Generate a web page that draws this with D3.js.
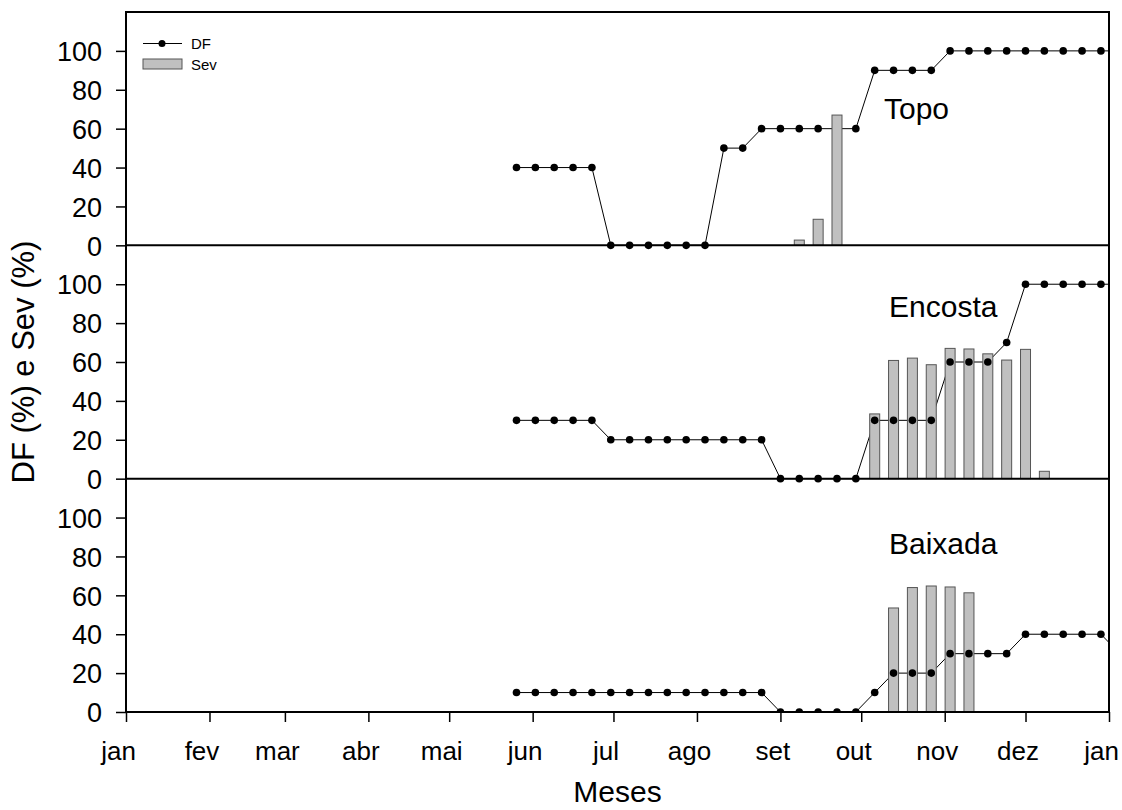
<!DOCTYPE html>
<html>
<head>
<meta charset="utf-8">
<script src="https://cdn.jsdelivr.net/npm/d3@7"></script>
<style>
  html, body { margin: 0; padding: 0; background: #fff; }
  svg { display: block; }
  text { font-family: "Liberation Sans", Arial, sans-serif; fill: #000; }
</style>
</head>
<body>
<svg id="chart" width="1122" height="810"></svg>
<script>
// Weekly sampling dates (the last one falls just past the axis end)
const sampleDates = [
  "2007-05-26","2007-06-02","2007-06-09","2007-06-16","2007-06-23","2007-06-30",
  "2007-07-07","2007-07-14","2007-07-21","2007-07-28","2007-08-04","2007-08-11",
  "2007-08-18","2007-08-25","2007-09-01","2007-09-08","2007-09-15","2007-09-22",
  "2007-09-29","2007-10-06","2007-10-13","2007-10-20","2007-10-27","2007-11-03",
  "2007-11-10","2007-11-17","2007-11-24","2007-12-01","2007-12-08","2007-12-15",
  "2007-12-22","2007-12-29","2008-01-05"
];

// DF (%) per sampling date
const dfTopo = [40,40,40,40,40, 0,0,0,0,0,0, 50,50, 60,60,60,60, null, 60,
                90,90,90,90, 100,100,100,100,100,100,100,100,100, 100];
const dfEncosta = [30,30,30,30,30, 20,20,20,20,20,20,20,20,20, 0,0,0,0,0,
                   30,30,30,30, 60,60,60, 70, 100,100,100,100,100, 100];
const dfBaixada = [10,10,10,10,10,10,10,10,10,10,10,10,10,10, 0,0,0,0,0,
                   10, 20,20,20, 30,30,30,30, 40,40,40,40,40, 30];

// Sev (%) per sampling date (null = not assessed)
const sevTopo = [null,null,null,null,null,null,null,null,null,null,null,null,null,null,null,
                 2.7, 13.4, 67, null,null,null,null,null,null,null,null,null,null,null,null,null,null,null];
const sevEncosta = [null,null,null,null,null,null,null,null,null,null,null,null,null,null,null,
                    null,null,null,null, 33.3, 60.8, 62, 58.6, 67, 66.7, 64.2, 61, 66.5, 3.8,
                    null,null,null,null];
const sevBaixada = [null,null,null,null,null,null,null,null,null,null,null,null,null,null,null,
                    null,null,null,null,null, 53.5, 64, 64.8, 64.3, 61.3,
                    null,null,null,null,null,null,null,null];

const panelNames = ["Topo", "Encosta", "Baixada"];
const monthLabels = ["jan","fev","mar","abr","mai","jun","jul","ago","set","out","nov","dez","jan"];
const yTickValues = [0, 20, 40, 60, 80, 100];

const panels = [
  { name: panelNames[0], df: dfTopo,    sev: sevTopo },
  { name: panelNames[1], df: dfEncosta, sev: sevEncosta },
  { name: panelNames[2], df: dfBaixada, sev: sevBaixada }
];

const svg = d3.select("#chart");
const plotL = 126, plotR = 1109, plotT = 12, plotB = 712;
const panelH = (plotB - plotT) / panels.length;
const parse = d3.timeParse("%Y-%m-%d");
const dates = sampleDates.map(parse);

const x = d3.scaleTime()
  .domain([new Date(2007, 0, 1), new Date(2008, 0, 1)])
  .range([plotL, plotR]);

svg.append("defs").append("clipPath").attr("id", "plotClip")
  .append("rect").attr("x", plotL).attr("y", plotT)
  .attr("width", plotR - plotL).attr("height", plotB - plotT);

const barW = 10;

panels.forEach((p, i) => {
  const y = d3.scaleLinear()
    .domain([0, 120])
    .range([plotT + (i + 1) * panelH, plotT + i * panelH]);

  const g = svg.append("g").attr("clip-path", "url(#plotClip)");

  // DF connecting line (beneath the bars)
  const pts = dates.map((d, k) => ({ d, v: p.df[k] })).filter(o => o.v != null);
  const line = d3.line().x(o => x(o.d)).y(o => y(o.v));
  g.append("path").datum(pts)
    .attr("d", line)
    .attr("fill", "none")
    .attr("stroke", "#000")
    .attr("stroke-width", 1);

  // Sev bars
  const bars = dates.map((d, k) => ({ d, v: p.sev[k] })).filter(o => o.v != null);
  g.selectAll("rect.bar").data(bars).join("rect")
    .attr("class", "bar")
    .attr("x", o => x(o.d) - barW / 2)
    .attr("width", barW)
    .attr("y", o => y(o.v))
    .attr("height", o => y(0) - y(o.v))
    .attr("fill", "#c0c0c0")
    .attr("stroke", "#555")
    .attr("stroke-width", 1);

  // DF symbols
  g.selectAll("circle.pt").data(pts).join("circle")
    .attr("class", "pt")
    .attr("cx", o => x(o.d))
    .attr("cy", o => y(o.v))
    .attr("r", 3.8)
    .attr("fill", "#000");

  // Y axis for this panel
  const ax = svg.append("g")
    .attr("transform", `translate(${plotL},0)`)
    .call(d3.axisLeft(y).tickValues(yTickValues).tickSize(10).tickPadding(14));
  ax.select(".domain").remove();
  ax.selectAll(".tick line").attr("stroke", "#000").attr("stroke-width", 1.5);
  ax.selectAll(".tick text")
    .style("font-family", '"Liberation Sans", Arial, sans-serif')
    .style("font-size", "27px")
    .attr("dy", "0.36em");

  // Panel baseline
  svg.append("line")
    .attr("x1", plotL).attr("x2", plotR)
    .attr("y1", y(0)).attr("y2", y(0))
    .attr("stroke", "#000").attr("stroke-width", 2);

  // Panel name
  svg.append("text")
    .attr("x", i === 0 ? 884 : 889)
    .attr("y", [119, 317, 554][i])
    .style("font-size", "30px")
    .text(p.name);
});

// Frame
svg.append("rect")
  .attr("x", plotL).attr("y", plotT)
  .attr("width", plotR - plotL).attr("height", plotB - plotT)
  .attr("fill", "none").attr("stroke", "#000").attr("stroke-width", 2);

// X axis
const monthTicks = d3.timeMonth.range(new Date(2007, 0, 1), new Date(2008, 0, 2));
const xa = svg.append("g")
  .attr("transform", `translate(0,${plotB})`)
  .call(d3.axisBottom(x).tickValues(monthTicks).tickSize(10).tickPadding(20)
    .tickFormat((d, k) => monthLabels[k]));
xa.select(".domain").remove();
xa.selectAll(".tick line").attr("stroke", "#000").attr("stroke-width", 1.5);
xa.selectAll(".tick text")
  .style("font-family", '"Liberation Sans", Arial, sans-serif')
  .style("font-size", "26px")
  .attr("dx", -8);

// Axis titles
svg.append("text")
  .attr("x", (plotL + plotR) / 2).attr("y", 802)
  .attr("text-anchor", "middle")
  .style("font-size", "30px")
  .text("Meses");

svg.append("text")
  .attr("transform", `translate(34,${(plotT + plotB) / 2}) rotate(-90)`)
  .attr("text-anchor", "middle")
  .style("font-size", "31px")
  .text("DF (%) e Sev (%)");

// Legend
const lg = svg.append("g");
lg.append("line").attr("x1", 143).attr("x2", 182).attr("y1", 43.5).attr("y2", 43.5)
  .attr("stroke", "#000").attr("stroke-width", 1);
lg.append("circle").attr("cx", 162).attr("cy", 43.5).attr("r", 3.5).attr("fill", "#000");
lg.append("text").attr("x", 191).attr("y", 49).style("font-size", "15px").text("DF");
lg.append("rect").attr("x", 143).attr("y", 59).attr("width", 39).attr("height", 10)
  .attr("fill", "#c0c0c0").attr("stroke", "#555").attr("stroke-width", 1);
lg.append("text").attr("x", 191).attr("y", 70).style("font-size", "15px").text("Sev");
</script>
</body>
</html>
